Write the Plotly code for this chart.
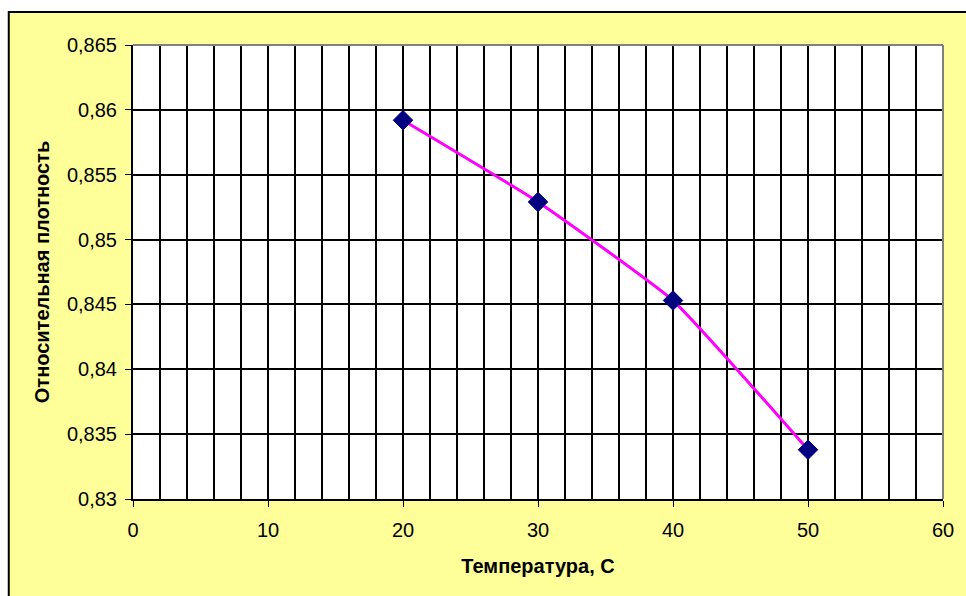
import plotly.graph_objects as go

temperature = [20, 30, 40, 50]
density = [0.8592, 0.8529, 0.8453, 0.8338]

x_ticks = [0, 10, 20, 30, 40, 50, 60]
y_ticks = [0.83, 0.835, 0.84, 0.845, 0.85, 0.855, 0.86, 0.865]
y_tick_labels = ["0,83", "0,835", "0,84", "0,845", "0,85", "0,855", "0,86", "0,865"]

x_title = "Температура, С"
y_title = "Относительная плотность"

W, H = 966, 596
L, R, T, B = 133, 18, 45, 97
pw, ph = W - L - R, H - T - B

def px_x(p):
    return (p - L) / pw

def px_y(q):
    return (H - B - q) / ph

fig = go.Figure()
fig.add_trace(go.Scatter(
    x=temperature, y=density, mode="lines+markers",
    line=dict(color="#FF00FF", width=3, shape="spline", smoothing=0.4),
    marker=dict(symbol="diamond", size=15, color="#000080",
                line=dict(color="#000080", width=1)),
    showlegend=False, cliponaxis=False,
))

fig.update_layout(
    width=W, height=H,
    margin=dict(l=L, r=R, t=T, b=B, pad=0),
    paper_bgcolor="white",
    plot_bgcolor="white",
    font=dict(family="Liberation Sans, Arial, sans-serif", color="black", size=16),
    shapes=[
        dict(type="rect", xref="paper", yref="paper", layer="below",
             x0=px_x(8), x1=px_x(980), y0=px_y(610), y1=px_y(12),
             fillcolor="#FFFF99", line=dict(color="black", width=2)),
        dict(type="rect", xref="paper", yref="paper", layer="below",
             x0=0, x1=1, y0=0, y1=1,
             fillcolor="white", line=dict(width=0)),
        dict(type="line", xref="paper", yref="paper", layer="above",
             x0=0, x1=1, y0=1, y1=1, line=dict(color="#808080", width=2)),
        dict(type="line", xref="paper", yref="paper", layer="above",
             x0=1, x1=1, y0=0, y1=1, line=dict(color="#808080", width=2)),
    ],
)

fig.update_xaxes(
    range=[0, 60], tickvals=x_ticks, ticks="outside", ticklen=6, tickwidth=1,
    tickcolor="black", showline=True, linecolor="black", linewidth=2,
    showgrid=True, gridcolor="black", gridwidth=1.5, zeroline=False,
    minor=dict(dtick=2, showgrid=True, gridcolor="black", gridwidth=1.5, ticks=""),
    tickfont=dict(size=20), ticklabelstandoff=6,
    title=dict(text="<b>" + x_title + "</b>", font=dict(size=20), standoff=19),
)
fig.update_yaxes(
    range=[0.83, 0.865], tickvals=y_ticks, ticktext=y_tick_labels,
    ticks="outside", ticklen=6, tickwidth=1, tickcolor="black",
    showline=True, linecolor="black", linewidth=2,
    showgrid=True, gridcolor="black", gridwidth=1.5, zeroline=False,
    tickfont=dict(size=20), ticklabelstandoff=4,
    title=dict(text="<b>" + y_title + "</b>", font=dict(size=20), standoff=12),
)

fig.write_html("out.html")
